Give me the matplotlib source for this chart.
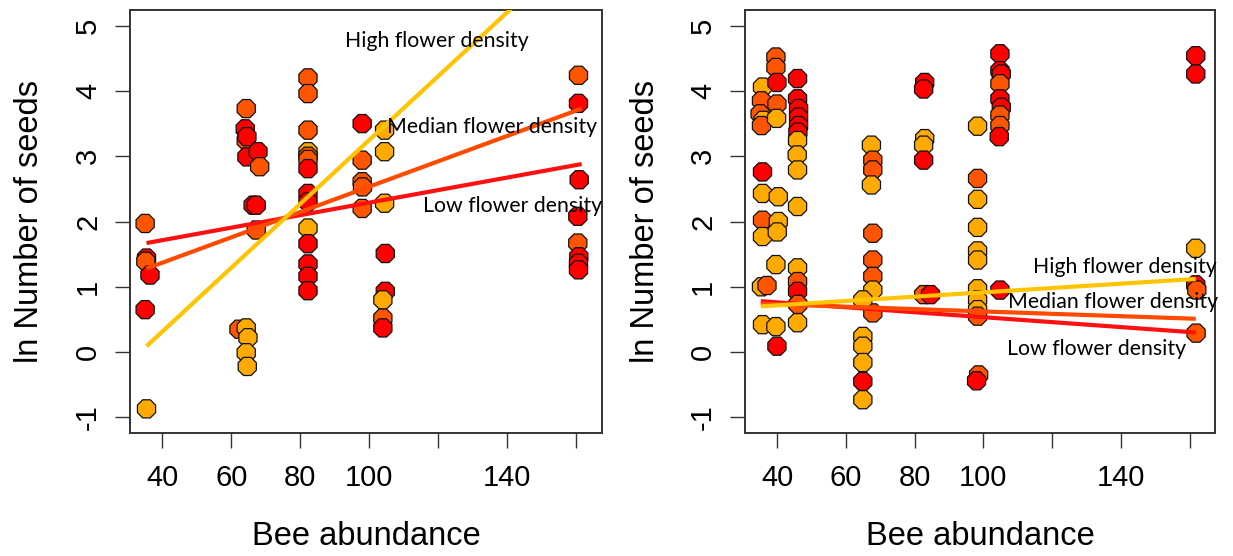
import matplotlib
matplotlib.use('Agg')
import matplotlib.pyplot as plt

# point colours by flower density class
dens_colors = {'L': '#FF0000', 'M': '#FF5500', 'H': '#FFAA00'}
line_colors = {'L': '#FF1010', 'M': '#FF4A00', 'H': '#FFC400'}

# ---- left panel data ----
left_x = [35.0, 35.4, 35.2, 36.4, 35.0, 35.4,
          64.3, 64.3, 64.0, 64.5, 64.5, 67.7, 68.2, 66.3, 67.2, 67.2,
          62.2, 64.3, 64.8, 64.3, 64.6,
          82.2, 82.2, 82.2, 82.2, 82.2, 82.2, 82.2, 82.2, 82.2, 82.2, 82.2, 82.2, 82.2, 82.2,
          97.9, 97.9, 97.9, 98.0, 97.9,
          104.4, 104.4, 104.4, 104.6, 104.6, 103.9, 103.9, 103.9,
          160.6, 160.6, 160.8, 160.4, 160.4, 160.7, 160.6, 160.6]
left_y = [1.97, 1.44, 1.39, 1.18, 0.65, -0.87,
          3.73, 3.24, 3.42, 3.30, 2.99, 3.07, 2.84, 2.25, 2.25, 1.87,
          0.35, 0.37, 0.22, -0.01, -0.22,
          4.20, 3.96, 3.40, 3.07, 3.00, 2.95, 2.81, 2.43, 2.30, 1.90, 1.66, 1.35, 1.16, 0.94,
          3.50, 2.94, 2.61, 2.53, 2.20,
          3.40, 3.07, 2.28, 1.51, 0.93, 0.80, 0.52, 0.37,
          4.24, 3.81, 2.64, 2.08, 1.67, 1.46, 1.36, 1.26]
left_dens = ['M', 'L', 'M', 'L', 'L', 'H',
             'M', 'M', 'L', 'L', 'L', 'L', 'M', 'L', 'L', 'M',
             'M', 'H', 'H', 'H', 'H',
             'M', 'M', 'M', 'H', 'M', 'M', 'L', 'L', 'L', 'H', 'L', 'L', 'L', 'L',
             'L', 'M', 'M', 'M', 'M',
             'H', 'H', 'H', 'L', 'L', 'H', 'M', 'L',
             'M', 'L', 'L', 'L', 'M', 'L', 'L', 'L']
left_line_x = [35.4, 161.5]
left_lines = {'H': [0.09, 6.26], 'M': [1.28, 3.73], 'L': [1.67, 2.88]}

# ---- right panel data ----
right_x = [35.7, 35.4, 35.0, 35.9, 35.4, 35.7, 35.7, 35.7, 35.7, 35.4, 37.0, 35.7,
           39.6, 39.6, 39.9, 39.9, 39.8, 40.3, 40.3, 40.0, 39.6, 39.6, 39.9,
           45.9, 45.9, 46.2, 46.2, 46.2, 46.0, 45.9, 45.8, 45.9, 45.9, 45.9, 45.9, 45.9, 46.0, 45.9,
           67.4, 67.8, 67.8, 67.4, 67.8, 67.8, 67.8, 67.8, 67.8,
           64.9, 64.9, 64.9, 64.9, 64.9, 64.9,
           82.9, 82.6, 82.9, 82.6, 82.6, 82.6, 84.6,
           98.3, 98.3, 98.3, 98.3, 98.3, 98.3, 98.3, 98.3, 98.3, 98.3, 98.6, 98.0,
           104.8, 104.8, 105.2, 104.8, 104.8, 105.2, 104.8, 104.8, 104.6, 104.8,
           161.8, 161.8, 161.8, 161.8, 162.1, 161.9]
right_y = [4.06, 3.85, 3.65, 3.55, 3.47, 2.76, 2.43, 2.02, 1.77, 1.00, 1.02, 0.42,
           4.52, 4.36, 4.13, 3.80, 3.58, 2.38, 2.00, 1.84, 1.34, 0.39, 0.09,
           4.19, 3.88, 3.73, 3.60, 3.47, 3.37, 3.24, 3.02, 2.79, 2.23, 1.29, 1.08, 0.93, 0.73, 0.45,
           3.17, 2.94, 2.79, 2.56, 1.82, 1.41, 1.16, 0.95, 0.60,
           0.80, 0.24, 0.09, -0.16, -0.45, -0.73,
           4.13, 4.03, 3.27, 3.17, 2.94, 0.88, 0.88,
           3.46, 2.66, 2.34, 1.91, 1.55, 1.41, 0.97, 0.80, 0.65, 0.55, -0.35, -0.44,
           4.57, 4.31, 4.26, 4.11, 3.88, 3.75, 3.63, 3.47, 3.30, 0.95,
           4.54, 4.26, 1.59, 1.03, 0.95, 0.29]
right_dens = ['H', 'M', 'M', 'H', 'M', 'L', 'H', 'M', 'H', 'H', 'M', 'H',
              'M', 'M', 'L', 'M', 'H', 'H', 'H', 'H', 'H', 'H', 'L',
              'L', 'L', 'L', 'L', 'L', 'L', 'H', 'H', 'H', 'H', 'H', 'M', 'L', 'M', 'H',
              'H', 'M', 'M', 'H', 'M', 'M', 'M', 'H', 'M',
              'H', 'H', 'H', 'H', 'L', 'H',
              'L', 'L', 'H', 'H', 'L', 'M', 'L',
              'H', 'M', 'H', 'H', 'H', 'H', 'H', 'H', 'H', 'M', 'M', 'L',
              'L', 'L', 'L', 'M', 'L', 'L', 'M', 'M', 'L', 'L',
              'L', 'L', 'H', 'L', 'M', 'M']
right_line_x = [35.2, 161.8]
right_lines = {'H': [0.70, 1.12], 'M': [0.74, 0.51], 'L': [0.78, 0.30]}

xticks = [40, 60, 80, 100, 120, 140, 160]
xticklabels = ['40', '60', '80', '100', '', '140', '']
yticks = [-1, 0, 1, 2, 3, 4, 5]
line_names = {'H': 'High flower density', 'M': 'Median flower density', 'L': 'Low flower density'}

# label anchor positions (left edge, vertical centre) in data units
left_label_pos = {'H': (92.8, 4.77), 'M': (105.0, 3.45), 'L': (115.5, 2.23)}
right_label_pos = {'H': (114.5, 1.31), 'M': (107.2, 0.77), 'L': (106.9, 0.04)}

plt.rcParams['font.family'] = ['Liberation Sans', 'DejaVu Sans']
plt.rcParams['axes.unicode_minus'] = False

fig = plt.figure(figsize=(12.33, 5.56), dpi=100)
ax1 = fig.add_axes([0.1054, 0.2212, 0.3828, 0.7608])
ax2 = fig.add_axes([0.6042, 0.2212, 0.3812, 0.7608])


def draw_panel(ax, xs, ys, dens, line_x, lines, label_pos):
    ax.scatter(xs, ys, s=200, marker='8', c=[dens_colors[d] for d in dens],
               edgecolors='#111111', linewidths=0.9, zorder=2)
    for k in ['L', 'M', 'H']:
        ax.plot(line_x, lines[k], color=line_colors[k], lw=3, zorder=3, solid_capstyle='butt')
    for k in ['H', 'M', 'L']:
        lx, ly = label_pos[k]
        ax.text(lx, ly, line_names[k], family=['Lato', 'DejaVu Sans'], fontsize=15.3,
                ha='left', va='center', zorder=4, clip_on=False)
    ax.set_xlim(30.6, 167.4)
    ax.set_ylim(-1.24, 5.24)
    ax.set_xticks(xticks)
    ax.set_xticklabels(xticklabels)
    ax.set_yticks(yticks)
    ax.tick_params(axis='both', length=11, width=1.0, color='#333333', labelsize=21)
    ax.tick_params(axis='x', pad=11)
    ax.tick_params(axis='y', pad=9)
    plt.setp(ax.get_yticklabels(), rotation=90, va='center')
    for sp in ax.spines.values():
        sp.set_color('#333333')
        sp.set_linewidth(1.4)
    ax.set_xlabel('Bee abundance', fontsize=23.5)
    ax.xaxis.label.set_va('center')
    ax.xaxis.set_label_coords(0.5, -0.245)
    ax.set_ylabel('ln Number of seeds', fontsize=23.5)
    ax.yaxis.label.set_va('center')
    ax.yaxis.set_label_coords(-0.212, 0.5)


draw_panel(ax1, left_x, left_y, left_dens, left_line_x, left_lines, left_label_pos)
draw_panel(ax2, right_x, right_y, right_dens, right_line_x, right_lines, right_label_pos)

fig.savefig('out.png', dpi=100)
